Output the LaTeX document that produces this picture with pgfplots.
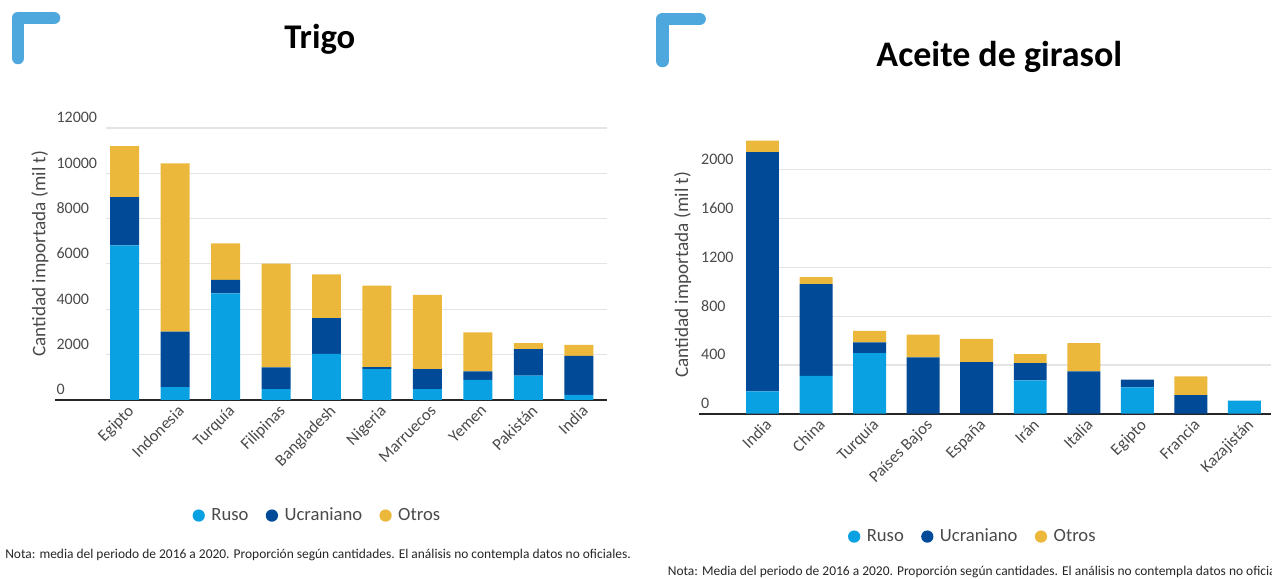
\documentclass[border=0pt]{standalone}
\usepackage{pgfplots}
\pgfplotsset{compat=1.18}
\usepackage{pgfplotstable}
\usepackage{fontspec}
\setmainfont{Carlito}
\definecolor{ruso}{HTML}{0AA1E2}
\definecolor{ucr}{HTML}{004A98}
\definecolor{otros}{HTML}{EBB83C}
\definecolor{logo}{HTML}{4EA8DE}
\definecolor{gridc}{HTML}{E4E4E4}
\definecolor{tickc}{HTML}{4A4A4A}

\pgfplotstableread{
idx R U O
0 6810 2130 2260
1 560 2450 7420
2 4700 590 1610
3 470 955 4585
4 2030 1570 1940
5 1350 90 3600
6 470 880 3280
7 880 370 1730
8 1060 1170 270
9 220 1720 480
}\trigo

\pgfplotstableread{
idx R U O
0 183 1962 95
1 311 752 57
2 497 88 95
3 0 462 186
4 0 423 192
5 273 142 74
6 0 347 232
7 216 63 0
8 0 153 153
9 107 0 0
}\girasol

\pgfplotsset{
  common/.style={
    scale only axis,
    ybar stacked,
    ymin=0,
    axis line style={draw=none},
    major tick length=0pt,
    ymajorgrids,
    grid style={gridc, line width=0.9pt},
    xtick={0,...,9},
    clip=false,
    xticklabel style={rotate=45, anchor=north east, text=tickc, font=\fontsize{12.5}{14}\selectfont, inner sep=1pt, yshift=-2pt},
    legend columns=3,
    legend style={draw=none, fill=none, anchor=center, font=\fontsize{14}{16}\selectfont, text=tickc,
      /tikz/every even column/.append style={column sep=11pt}},
    legend image code/.code={\fill[##1, draw=none] (0pt,0pt) circle (4.6pt); \path (7.5pt,0pt);},
  },
}

\begin{document}
\begin{tikzpicture}
\begin{scope}[x=0.75pt,y=-0.75pt]
\useasboundingbox (0,0) rectangle (1272,579);
% logos
\draw[logo, line width=9.5pt, line cap=round, line join=round] (18,58) -- (18,18) -- (54,18);
\draw[logo, line width=9.5pt, line cap=round, line join=round] (663,61) -- (663,19) -- (700,19);
% titles
\node[font=\fontsize{26}{30}\selectfont\bfseries] at (320,39) {Trigo};
\node[font=\fontsize{27}{30}\selectfont\bfseries] at (1000,57) {Aceite de girasol};
% y labels
\node[rotate=90, text=tickc, font=\fontsize{14.4}{16}\selectfont] at (40,254) {Cantidad importada (mil t)};
\node[rotate=90, text=tickc, font=\fontsize{14.4}{16}\selectfont] at (683,275) {Cantidad importada (mil t)};
% notes
\node[anchor=west, inner sep=0pt, text=black!85, font=\fontsize{10.1}{12}\selectfont] at (5,555) {Nota: media del periodo de 2016 a 2020. Proporción según cantidades. El análisis no contempla datos no oficiales.};
\node[anchor=west, inner sep=0pt, text=black!85, font=\fontsize{10.1}{12}\selectfont] at (668,572) {Nota: Media del periodo de 2016 a 2020. Proporción según cantidades. El análisis no contempla datos no oficiales.};
\end{scope}

% ---------- Trigo ----------
\begin{axis}[common,
  at={(79.5pt,-300pt)}, anchor=south west,
  width=375.75pt, height=204pt,
  xmin=-0.37, xmax=9.55,
  ymax=12000,
  ytick={0,2000,...,12000},
  bar width=21.75pt,
  yticklabel style={anchor=south west, xshift=-38.25pt, yshift=2.5pt, text=tickc, font=\fontsize{12}{14}\selectfont, inner sep=1pt},
  scaled y ticks=false,
  /pgf/number format/assume math mode=true,
  yticklabel={\pgfmathprintnumber[fixed, 1000 sep={}]{\tick}},
  xticklabels={Egipto,Indonesia,Turquía,Filipinas,Bangladesh,Nigeria,Marruecos,Yemen,Pakistán,India},
  legend style={at={(0.423,-0.426)}},
]
\addplot[fill=ruso, draw=none] table[x=idx, y=R] {\trigo};
\addplot[fill=ucr, draw=none] table[x=idx, y=U] {\trigo};
\addplot[fill=otros, draw=none] table[x=idx, y=O] {\trigo};
\legend{Ruso, Ucraniano, Otros}
\draw[black!85, line width=1.2pt] (rel axis cs:-0.102,0) -- (rel axis cs:1,0);
\end{axis}

% ---------- Aceite de girasol ----------
\begin{axis}[common,
  at={(559.5pt,-310.5pt)}, anchor=south west,
  width=394.5pt, height=210.45pt,
  xmin=-0.317, xmax=9.5,
  ymax=2300,
  ytick={0,400,...,2000},
  bar width=24.75pt,
  yticklabel style={anchor=south west, xshift=-34.5pt, yshift=2.5pt, text=tickc, font=\fontsize{12}{14}\selectfont, inner sep=1pt},
  scaled y ticks=false,
  /pgf/number format/assume math mode=true,
  yticklabel={\pgfmathprintnumber[fixed, 1000 sep={}]{\tick}},
  xticklabels={India,China,Turquía,Países Bajos,España,Irán,Italia,Egipto,Francia,Kazajistán},
  legend style={at={(0.433,-0.438)}},
]
\addplot[fill=ruso, draw=none] table[x=idx, y=R] {\girasol};
\addplot[fill=ucr, draw=none] table[x=idx, y=U] {\girasol};
\addplot[fill=otros, draw=none] table[x=idx, y=O] {\girasol};
\legend{Ruso, Ucraniano, Otros}
\draw[black!85, line width=1.2pt] (rel axis cs:-0.089,0) -- (rel axis cs:1,0);
\end{axis}
\end{tikzpicture}
\end{document}
